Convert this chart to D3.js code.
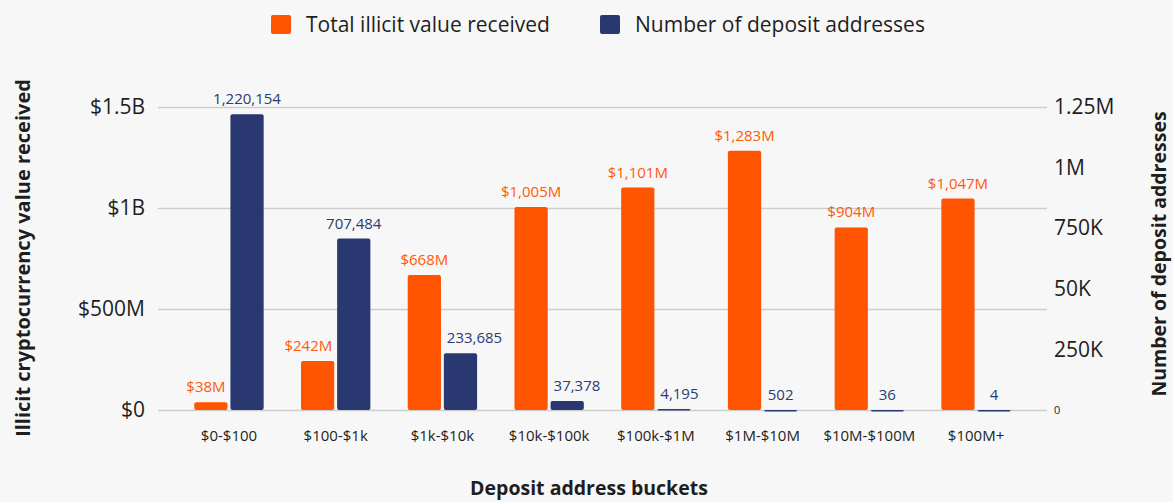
<!DOCTYPE html>
<html>
<head>
<meta charset="utf-8">
<script src="https://cdn.jsdelivr.net/npm/d3@7"></script>
<style>
  body { margin: 0; background: #f7f7f7; }
  svg { display: block; font-family: "Open Sans", sans-serif; }
</style>
</head>
<body>
<svg id="chart" width="1173" height="502"></svg>
<script>
// data
const buckets = ["$0-$100", "$100-$1k", "$1k-$10k", "$10k-$100k", "$100k-$1M", "$1M-$10M", "$10M-$100M", "$100M+"];
const illicitValue = [38e6, 242e6, 668e6, 1005e6, 1101e6, 1283e6, 904e6, 1047e6];
const depositAddresses = [1220154, 707484, 233685, 37378, 4195, 502, 36, 4];

const leftTicks = [0, 500e6, 1e9, 1.5e9];
const leftTickLabels = ["$0", "$500M", "$1B", "$1.5B"];
const rightTicks = [0, 250e3, 500e3, 750e3, 1e6, 1.25e6];
const rightTickLabels = ["0", "250K", "50K", "750K", "1M", "1.25M"];

const seriesNames = ["Total illicit value received", "Number of deposit addresses"];
const ORANGE = "#ff5400", NAVY = "#293871";

const svg = d3.select("#chart");
const plotL = 158, plotR = 1047, plotT = 107, plotB = 410;

const x = d3.scaleBand().domain(buckets).range([plotL, plotR]).paddingInner(0.35).paddingOuter(0.34);
const xs = d3.scaleBand().domain([0, 1]).range([0, x.bandwidth()]).paddingInner(0.08);
const yL = d3.scaleLinear().domain([0, 1.5e9]).range([plotB, plotT]);
const yR = d3.scaleLinear().domain([0, 1.25e6]).range([plotB, plotT]);

// left axis + gridlines
const gL = svg.append("g").attr("transform", `translate(${plotL},0)`)
  .call(d3.axisLeft(yL).tickValues(leftTicks)
    .tickFormat((d, i) => leftTickLabels[i])
    .tickSize(-(plotR - plotL)).tickPadding(13));
gL.select(".domain").remove();
gL.selectAll(".tick line").attr("stroke", "#cdcdcd").attr("stroke-width", 1.5);
gL.selectAll(".tick text").attr("font-size", 21).attr("fill", "#1e1e1e").attr("font-family", "Open Sans");

// right axis
const gR = svg.append("g").attr("transform", `translate(${plotR},0)`)
  .call(d3.axisRight(yR).tickValues(rightTicks)
    .tickFormat((d, i) => rightTickLabels[i])
    .tickSize(0).tickPadding(7));
gR.select(".domain").remove();
gR.selectAll(".tick text").attr("font-size", d => d === 0 ? 11 : 21).attr("fill", "#1e1e1e").attr("font-family", "Open Sans");

// x axis labels
const gX = svg.append("g").attr("transform", `translate(0,${plotB})`)
  .call(d3.axisBottom(x).tickSize(0).tickPadding(20));
gX.select(".domain").remove();
gX.selectAll(".tick text").attr("font-size", 15).attr("fill", "#1e1e1e").attr("font-family", "Open Sans");

// bars
const groups = svg.append("g").selectAll("g")
  .data(buckets)
  .join("g")
  .attr("transform", d => `translate(${x(d)},0)`);

groups.append("rect")
  .attr("x", xs(0))
  .attr("y", (d, i) => yL(illicitValue[i]))
  .attr("width", xs.bandwidth())
  .attr("height", (d, i) => plotB - yL(illicitValue[i]))
  .attr("rx", 2)
  .attr("fill", ORANGE);

groups.append("rect")
  .attr("x", xs(1))
  .attr("y", (d, i) => yR(depositAddresses[i]))
  .attr("width", xs.bandwidth())
  .attr("height", (d, i) => Math.max(1.5, plotB - yR(depositAddresses[i])))
  .attr("rx", 2)
  .attr("fill", NAVY);

// value labels, nudged sideways when they would run into the neighbouring bar
const bw = xs.bandwidth();
const orangeTop = i => yL(illicitValue[i]);
const navyTop = i => yR(depositAddresses[i]);

const valLabels = groups.append("text")
  .attr("y", (d, i) => orangeTop(i) - 10)
  .attr("text-anchor", "middle")
  .attr("font-size", 15)
  .attr("fill", "#ff5a0a")
  .text((d, i) => "$" + d3.format(",")(illicitValue[i] / 1e6) + "M");
valLabels.attr("x", function (d, i) {
  const c = xs(0) + bw / 2, w = this.getComputedTextLength();
  if (navyTop(i) < orangeTop(i)) return Math.min(c, xs(0) + bw - 2 - w / 2);
  return c;
});

const cntLabels = groups.append("text")
  .attr("y", (d, i) => Math.min(navyTop(i) - 10, 402))
  .attr("text-anchor", "middle")
  .attr("font-size", 15)
  .attr("fill", "#2c3a70")
  .text((d, i) => d3.format(",")(depositAddresses[i]));
cntLabels.attr("x", function (d, i) {
  const c = xs(1) + bw / 2, w = this.getComputedTextLength();
  if (orangeTop(i) < navyTop(i)) return Math.max(c, xs(1) + 3 + w / 2);
  return c;
});

// axis titles
svg.append("text")
  .attr("transform", "translate(30,258) rotate(-90)")
  .attr("text-anchor", "middle")
  .attr("font-size", 20).attr("font-weight", "bold").attr("fill", "#1e1e1e")
  .text("Illicit cryptocurrency value received");

svg.append("text")
  .attr("transform", "translate(1166,254) rotate(-90)")
  .attr("text-anchor", "middle")
  .attr("font-size", 19.5).attr("font-weight", "bold").attr("fill", "#1e1e1e")
  .text("Number of deposit addresses");

svg.append("text")
  .attr("x", 589).attr("y", 495)
  .attr("text-anchor", "middle")
  .attr("font-size", 19.5).attr("font-weight", "bold").attr("fill", "#1e1e1e")
  .text("Deposit address buckets");

// legend
const legendX = [271, 600];
const legend = svg.append("g").selectAll("g")
  .data(seriesNames)
  .join("g")
  .attr("transform", (d, i) => `translate(${legendX[i]},15)`);
legend.append("rect")
  .attr("width", 20).attr("height", 19).attr("rx", 2)
  .attr("fill", (d, i) => i === 0 ? ORANGE : NAVY);
legend.append("text")
  .attr("x", 35).attr("y", 10).attr("dy", "0.35em")
  .attr("font-size", 21).attr("fill", "#1e1e1e")
  .text(d => d);
</script>
</body>
</html>
